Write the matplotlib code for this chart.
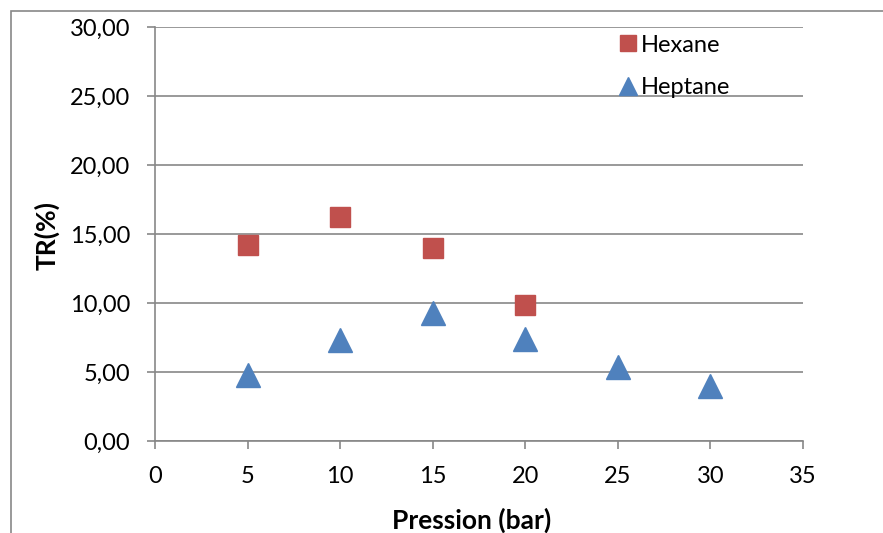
import matplotlib.pyplot as plt
from matplotlib.patches import Rectangle
from matplotlib.ticker import FuncFormatter

hexane_x = [5, 10, 15, 20]
hexane_y = [14.2, 16.2, 14.0, 9.85]
heptane_x = [5, 10, 15, 20, 25, 30]
heptane_y = [4.75, 7.3, 9.25, 7.4, 5.35, 4.0]

plt.rcParams["font.family"] = ["Lato", "DejaVu Sans"]

W, H = 883, 533
fig = plt.figure(figsize=(W / 100, H / 100), dpi=100)
ax = fig.add_axes([155 / W, 1 - 441 / H, 648 / W, 414 / H])

# chart frame, cropped on the right and bottom like the original
fig.add_artist(Rectangle((11 / W, -0.1), 1.2, 1 - 11 / H + 0.1,
                         transform=fig.transFigure, fill=False,
                         edgecolor="#878787", linewidth=1.2))

ax.plot(hexane_x, hexane_y, linestyle="none", marker="s", markersize=14,
        color="#c0504d", markeredgecolor="#c0504d", label="Hexane")
ax.plot(heptane_x, heptane_y, linestyle="none", marker="^", markersize=17,
        color="#4f81bd", markeredgecolor="#4f81bd", label="Heptane")

ax.set_xlim(0, 35)
ax.set_ylim(0, 30)
ax.set_xticks(range(0, 36, 5))
ax.set_yticks(range(0, 31, 5))
ax.yaxis.set_major_formatter(FuncFormatter(lambda v, p: f"{v:.2f}".replace(".", ",")))
ax.grid(axis="y", color="#878787", linewidth=1.2)
ax.set_axisbelow(True)

for side in ["top", "right"]:
    ax.spines[side].set_visible(False)
for side in ["left", "bottom"]:
    ax.spines[side].set_color("#878787")
    ax.spines[side].set_linewidth(1.2)
ax.tick_params(direction="out", length=6, width=1.2, color="#878787",
               labelsize=17, pad=12)

fig.text(47 / W, 1 - 235 / H, "TR(%)", rotation=90, ha="center", va="center",
         fontsize=19, fontweight="bold")
fig.text(472 / W, 1 - 520 / H, "Pression (bar)", ha="center", va="center",
         fontsize=19, fontweight="bold")

ax.legend(loc="upper left", bbox_to_anchor=(0.68, 1.027), frameon=False,
          fontsize=17, handletextpad=0.0, labelspacing=0.9, handlelength=1.1,
          markerscale=0.8, borderpad=0.3)

fig.savefig("out.png", dpi=100)
